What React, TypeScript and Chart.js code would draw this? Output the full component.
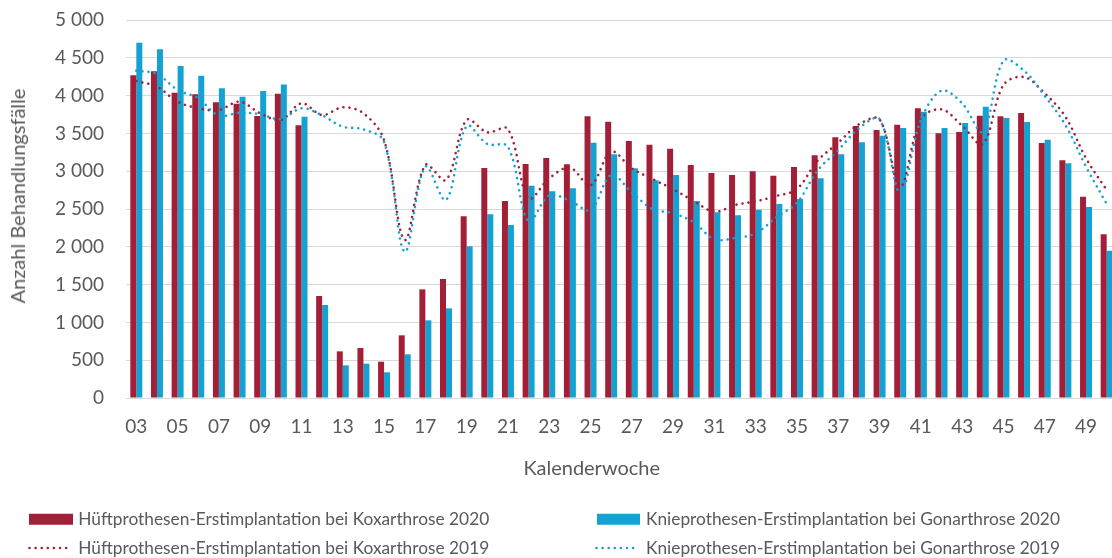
import React, { useEffect, useRef } from 'react';
import { Chart, registerables } from 'chart.js';

Chart.register(...registerables);

// ---------- data ----------
const weeks = [
  '03', '04', '05', '06', '07', '08', '09', '10', '11', '12', '13', '14', '15', '16', '17', '18',
  '19', '20', '21', '22', '23', '24', '25', '26', '27', '28', '29', '30', '31', '32', '33', '34',
  '35', '36', '37', '38', '39', '40', '41', '42', '43', '44', '45', '46', '47', '48', '49', '50',
];

const hip2020 = [
  4268, 4321, 4039, 4017, 3911, 3893, 3730, 4025, 3607,
  1349, 617, 661, 480, 829, 1437, 1574, 2403, 3042,
  2606, 3095, 3175, 3091, 3726, 3655, 3399, 3351, 3298,
  3082, 2976, 2950, 2998, 2941, 3056, 3210, 3448, 3598,
  3545, 3615, 3832, 3501, 3519, 3734, 3726, 3770, 3373,
  3144, 2663, 2165,
];

const knee2020 = [
  4700, 4612, 4392, 4264, 4096, 3986, 4061, 4148, 3721,
  1230, 432, 454, 340, 578, 1027, 1186, 2006, 2432,
  2288, 2808, 2734, 2774, 3377, 3223, 3038, 2880, 2950,
  2606, 2456, 2416, 2491, 2566, 2632, 2906, 3223, 3382,
  3470, 3571, 3787, 3571, 3638, 3853, 3704, 3651, 3417,
  3104, 2526, 1949,
];

const hip2019 = [
  4193, 4118, 3920, 3832, 3810, 3920, 3766, 3677, 3898,
  3743, 3845, 3766, 3413, 2090, 3082, 2884, 3677, 3515,
  3558, 2641, 2906, 3047, 2813, 3258, 3038, 2897, 2761,
  2606, 2464, 2553, 2602, 2672, 2765, 3140, 3377, 3620,
  3686, 2795, 3690, 3818, 3602, 3360, 4140, 4246, 4030,
  3721, 3170, 2751,
];

const knee2019 = [
  4330, 4286, 4074, 3964, 3734, 3774, 3753, 3690, 3832,
  3739, 3589, 3554, 3391, 1935, 3060, 2619, 3598, 3360,
  3324, 2332, 2681, 2610, 2487, 2950, 2721, 2500, 2443,
  2324, 2099, 2116, 2178, 2390, 2584, 3010, 3280, 3567,
  3690, 2716, 3677, 4065, 3898, 3523, 4462, 4330, 3995,
  3611, 3060, 2566,
];

const seriesNames = [
  'Hüftprothesen-Erstimplantation bei Koxarthrose 2020',
  'Knieprothesen-Erstimplantation bei Gonarthrose 2020',
  'Hüftprothesen-Erstimplantation bei Koxarthrose 2019',
  'Knieprothesen-Erstimplantation bei Gonarthrose 2019',
];

const yAxisTitle = 'Anzahl Behandlungsfälle';
const xAxisTitle = 'Kalenderwoche';

// ---------- style ----------
const FAMILY = 'Lato';
const TEXT = '#595959';
const RED = '#A21F37';
const BLUE = '#13A2D2';
const GRID = '#D9D9D9';

function fitSize(text: string, target: number): number {
  const ctx = document.createElement('canvas').getContext('2d');
  if (!ctx) return 18;
  ctx.font = `100px ${FAMILY}`;
  const w = ctx.measureText(text).width;
  return w > 0 ? (100 * target) / w : 18;
}

function fmt(v: number): string {
  return String(v).replace(/\B(?=(\d{3})+(?!\d))/g, ' ');
}

function Swatch({ kind, color }: { kind: 'bar' | 'dot'; color: string }) {
  if (kind === 'bar') {
    return <div style={{ width: 43.5, height: 10.5, background: color }} />;
  }
  return (
    <svg width={46} height={6} style={{ display: 'block' }}>
      <line
        x1={1.5}
        y1={3}
        x2={44}
        y2={3}
        stroke={color}
        strokeWidth={2.6}
        strokeLinecap="round"
        strokeDasharray="0 6.1"
      />
    </svg>
  );
}

export default function App() {
  const ref = useRef<HTMLCanvasElement>(null);

  const tickSize = fitSize('5 000', 49);
  const yTitleSize = fitSize(yAxisTitle, 215);
  const xTitleSize = fitSize(xAxisTitle, 136.7);
  const legendSize = fitSize(seriesNames[0], 411);

  useEffect(() => {
    if (!ref.current) return;
    const chart = new Chart(ref.current, {
      type: 'bar',
      data: {
        labels: weeks,
        datasets: [
          {
            type: 'line',
            label: seriesNames[2],
            data: hip2019,
            borderColor: RED,
            backgroundColor: RED,
            borderWidth: 2.6,
            borderCapStyle: 'round',
            borderDash: [0.01, 6.1],
            pointRadius: 0,
            tension: 0.35,
            fill: false,
            order: 1,
          },
          {
            type: 'line',
            label: seriesNames[3],
            data: knee2019,
            borderColor: BLUE,
            backgroundColor: BLUE,
            borderWidth: 2.6,
            borderCapStyle: 'round',
            borderDash: [0.01, 6.1],
            pointRadius: 0,
            tension: 0.35,
            fill: false,
            order: 0,
          },
          {
            type: 'bar',
            label: seriesNames[0],
            data: hip2020,
            backgroundColor: RED,
            borderWidth: 0,
            categoryPercentage: 0.58,
            barPercentage: 1,
            order: 2,
          },
          {
            type: 'bar',
            label: seriesNames[1],
            data: knee2020,
            backgroundColor: BLUE,
            borderWidth: 0,
            categoryPercentage: 0.58,
            barPercentage: 1,
            order: 2,
          },
        ],
      } as any,
      options: {
        responsive: false,
        animation: false,
        devicePixelRatio: 1,
        layout: { padding: { top: 20, left: 0, right: 0, bottom: 0 } },
        plugins: {
          legend: { display: false },
          tooltip: { enabled: false },
          title: { display: false },
        },
        scales: {
          x: {
            type: 'category',
            offset: true,
            grid: { display: false, drawTicks: false },
            border: { display: true, color: GRID, width: 1 },
            ticks: {
              autoSkip: false,
              maxRotation: 0,
              minRotation: 0,
              padding: 17,
              color: TEXT,
              font: { family: FAMILY, size: tickSize },
              callback: (_v: any, i: number) => (i % 2 === 0 ? weeks[i] : ''),
            },
            afterFit: (s: any) => {
              s.height = 160;
              s.paddingLeft = 0;
              s.paddingRight = 0;
            },
          },
          y: {
            min: 0,
            max: 5000,
            grid: { color: GRID, lineWidth: 1, drawTicks: false },
            border: { display: false },
            ticks: {
              stepSize: 500,
              padding: 22,
              color: TEXT,
              font: { family: FAMILY, size: tickSize },
              callback: (v: any) => fmt(Number(v)),
            },
            afterFit: (s: any) => {
              s.width = 126;
              s.paddingTop = 0;
              s.paddingBottom = 0;
            },
          },
        },
      } as any,
    });
    return () => chart.destroy();
  }, []);

  const legendRows = [
    { y: 519, items: [{ kind: 'bar', color: RED, name: seriesNames[0], sx: 29.3, tx: 78.3 }, { kind: 'bar', color: BLUE, name: seriesNames[1], sx: 596.7, tx: 646 }] },
    { y: 547.5, items: [{ kind: 'dot', color: RED, name: seriesNames[2], sx: 28, tx: 78.3 }, { kind: 'dot', color: BLUE, name: seriesNames[3], sx: 594.5, tx: 646 }] },
  ];

  return (
    <div
      style={{
        position: 'fixed',
        left: 0,
        top: 0,
        width: 1112,
        height: 558,
        overflow: 'hidden',
        background: '#ffffff',
        fontFamily: FAMILY,
        color: TEXT,
      }}
    >
      <canvas
        ref={ref}
        width={1117}
        height={558}
        style={{ position: 'absolute', left: 0, top: 0, width: 1117, height: 558, display: 'block' }}
      />
      <div
        style={{
          position: 'absolute',
          left: 16.5,
          top: 195.5,
          transform: 'translate(-50%, -50%) rotate(-90deg)',
          whiteSpace: 'nowrap',
          lineHeight: 1,
          fontSize: yTitleSize,
        }}
      >
        {yAxisTitle}
      </div>
      <div
        style={{
          position: 'absolute',
          left: 591.7,
          top: 467,
          transform: 'translate(-50%, -50%)',
          whiteSpace: 'nowrap',
          lineHeight: 1,
          fontSize: xTitleSize,
        }}
      >
        {xAxisTitle}
      </div>
      {legendRows.map((row, ri) =>
        row.items.map((it, ii) => (
          <React.Fragment key={`${ri}-${ii}`}>
            <div
              style={{
                position: 'absolute',
                left: it.sx,
                top: row.y,
                transform: 'translateY(-50%)',
              }}
            >
              <Swatch kind={it.kind as 'bar' | 'dot'} color={it.color} />
            </div>
            <div
              style={{
                position: 'absolute',
                left: it.tx,
                top: row.y,
                transform: 'translateY(-50%)',
                whiteSpace: 'nowrap',
                lineHeight: 1,
                fontSize: legendSize,
              }}
            >
              {it.name}
            </div>
          </React.Fragment>
        ))
      )}
    </div>
  );
}
